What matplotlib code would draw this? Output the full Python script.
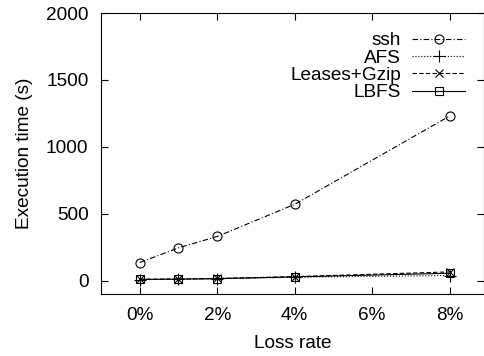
import matplotlib
matplotlib.use('Agg')
import matplotlib.pyplot as plt

plt.rcParams['font.family'] = ['Liberation Sans', 'DejaVu Sans']
plt.rcParams['font.size'] = 13.7

loss = [0, 1, 2, 4, 8]
ssh = [135, 245, 330, 570, 1230]
afs = [8, 10, 14, 25, 38]
leases = [10, 12, 16, 30, 65]
lbfs = [9, 11, 15, 28, 55]
xticks = [0, 2, 4, 6, 8]
xlabels = ['0%', '2%', '4%', '6%', '8%']

fig = plt.figure(figsize=(4.85, 3.56), dpi=100)
ax = fig.add_axes([101/485, 62/356, 383.5/485, 281/356])

ax.plot(loss, ssh, color='black', lw=0.8, dashes=[5, 2, 1, 2], marker='o',
        ms=6.5, mfc='none', mew=0.8, label='ssh')
ax.plot(loss, afs, color='black', lw=0.8, ls=':', marker='+',
        ms=8, mew=0.8, label='AFS')
ax.plot(loss, leases, color='black', lw=0.8, dashes=[4, 2], marker='x',
        ms=6, mew=0.8, label='Leases+Gzip')
ax.plot(loss, lbfs, color='black', lw=0.8, ls='-', marker='s',
        ms=6, mfc='none', mew=0.8, label='LBFS')

ax.set_xlim(-1, 8.9)
ax.set_ylim(-100, 2000)
ax.set_xticks(xticks)
ax.set_xticklabels(xlabels)
ax.set_yticks([0, 500, 1000, 1500, 2000])
ax.tick_params(direction='in', top=True, right=True, length=5, width=0.8, pad=9)
for s in ax.spines.values():
    s.set_linewidth(0.8)

ax.set_xlabel('Loss rate', labelpad=8)
ax.set_ylabel('Execution time (s)', labelpad=9)

ax.legend(loc='upper right', frameon=False, markerfirst=False,
          handlelength=2.8, labelspacing=0.0, borderaxespad=0.75,
          borderpad=0.25, handletextpad=0.6)

fig.savefig('out.png', dpi=100)
